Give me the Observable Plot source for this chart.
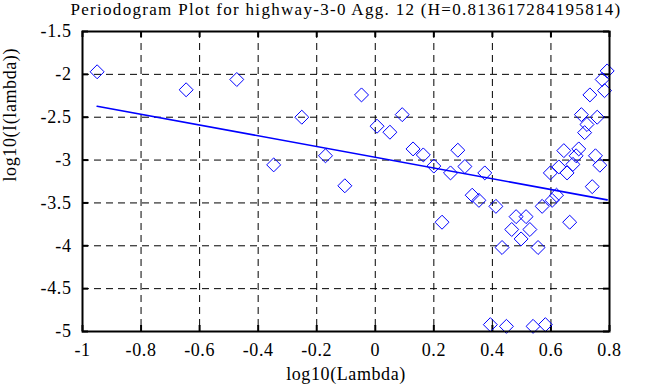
<!DOCTYPE html>
<html><head><meta charset="utf-8">
<script src="https://cdn.jsdelivr.net/npm/d3@7"></script>
<script src="https://cdn.jsdelivr.net/npm/@observablehq/plot@0.6"></script>
<style>body{margin:0;background:#fff} .lsp text{letter-spacing:0.6px} .ttl text{letter-spacing:1.3px}</style>
</head><body><div id="chart"></div>
<script>
const title = "Periodogram Plot for highway-3-0 Agg. 12 (H=0.813617284195814)";
const xLabel = "log10(Lambda)";
const yLabel = "log10(I(lambda))";
const xTicks = [-1, -0.8, -0.6, -0.4, -0.2, 0, 0.2, 0.4, 0.6, 0.8];
const yTicks = [-5, -4.5, -4, -3.5, -3, -2.5, -2, -1.5];
const logLambda = [-0.950,-0.646,-0.473,-0.347,-0.251,-0.170,-0.104,-0.047,0.006,0.050,
  0.092,0.129,0.164,0.200,0.228,0.257,0.282,0.306,0.331,0.354,
  0.374,0.393,0.412,0.433,0.448,0.466,0.481,0.498,0.515,0.528,
  0.539,0.556,0.570,0.581,0.598,0.604,0.619,0.627,0.644,0.655,
  0.664,0.675,0.686,0.695,0.704,0.715,0.723,0.733,0.741,0.752,
  0.758,0.767,0.775,0.783,0.792];
const logI = [-1.97,-2.18,-2.06,-3.056,-2.50,-2.95,-3.30,-2.24,-2.605,-2.675,
  -2.47,-2.87,-2.94,-3.07,-3.725,-3.15,-2.885,-3.075,-3.41,-3.47,
  -3.15,-4.92,-3.54,-4.02,-4.94,-3.81,-3.66,-3.92,-3.66,-3.81,
  -4.94,-4.02,-3.54,-4.92,-3.15,-3.47,-3.41,-3.08,-2.89,-3.15,
  -3.725,-3.05,-2.95,-2.87,-2.47,-2.68,-2.585,-2.24,-3.31,-2.95,
  -2.50,-3.06,-2.06,-2.19,-1.96];
const fitX = [-0.95, 0.792];
const fitY = [-2.372, -3.464];

const points = logLambda.map((x, i) => ({x, y: logI[i]}));
const fit = fitX.map((x, i) => ({x, y: fitY[i]}));
const innerX = xTicks.slice(1, -1);
const innerY = yTicks.slice(1, -1);
const fmt = d => String(d);
const font = "'Liberation Serif', 'Times New Roman', serif";

const chart = Plot.plot({
  width: 663, height: 387,
  marginLeft: 82, marginRight: 54, marginTop: 31, marginBottom: 56,
  style: {fontFamily: font, fontSize: "18px", color: "black", background: "white"},
  x: {domain: [-1, 0.8]},
  y: {domain: [-5, -1.5]},
  marks: [
    Plot.gridX(innerX, {stroke: "black", strokeOpacity: 1, strokeDasharray: "7,5"}),
    Plot.gridY(innerY, {stroke: "black", strokeOpacity: 1, strokeDasharray: "7,5"}),
    Plot.tickX(xTicks, {x: d => d, insetTop: 294, stroke: "black", strokeWidth: 2}),
    Plot.tickX(xTicks, {x: d => d, insetBottom: 294, stroke: "black", strokeWidth: 2}),
    Plot.tickY(yTicks, {y: d => d, insetLeft: 521, stroke: "black", strokeWidth: 2}),
    Plot.tickY(yTicks, {y: d => d, insetRight: 521, stroke: "black", strokeWidth: 2}),
    Plot.axisX(xTicks, {anchor: "bottom", tickSize: 0, tickPadding: 12, tickFormat: fmt, label: null, fontSize: 18, className: "lsp"}),
    Plot.axisY(yTicks, {anchor: "left", tickSize: 0, tickPadding: 11, tickFormat: fmt, label: null, fontSize: 18, className: "lsp"}),
    Plot.line(fit, {x: "x", y: "y", stroke: "#0000ff", strokeWidth: 1.6}),
    Plot.dot(points, {x: "x", y: "y", symbol: "diamond2", r: 6.3, stroke: "#0000ff", strokeWidth: 1, fill: "none"}),
    Plot.frame({stroke: "black", strokeWidth: 2}),
    Plot.text([title], {frameAnchor: "top", lineAnchor: "bottom", dy: -17, fontSize: 17, fill: "black", className: "ttl"}),
    Plot.text([xLabel], {frameAnchor: "bottom", lineAnchor: "bottom", dy: 48, fontSize: 18, fill: "black", className: "lsp"}),
    Plot.text([yLabel], {frameAnchor: "left", lineAnchor: "middle", rotate: -90, dx: -72, fontSize: 18, fill: "black", className: "lsp"})
  ]
});
document.getElementById("chart").appendChild(chart);
</script>
</body></html>
